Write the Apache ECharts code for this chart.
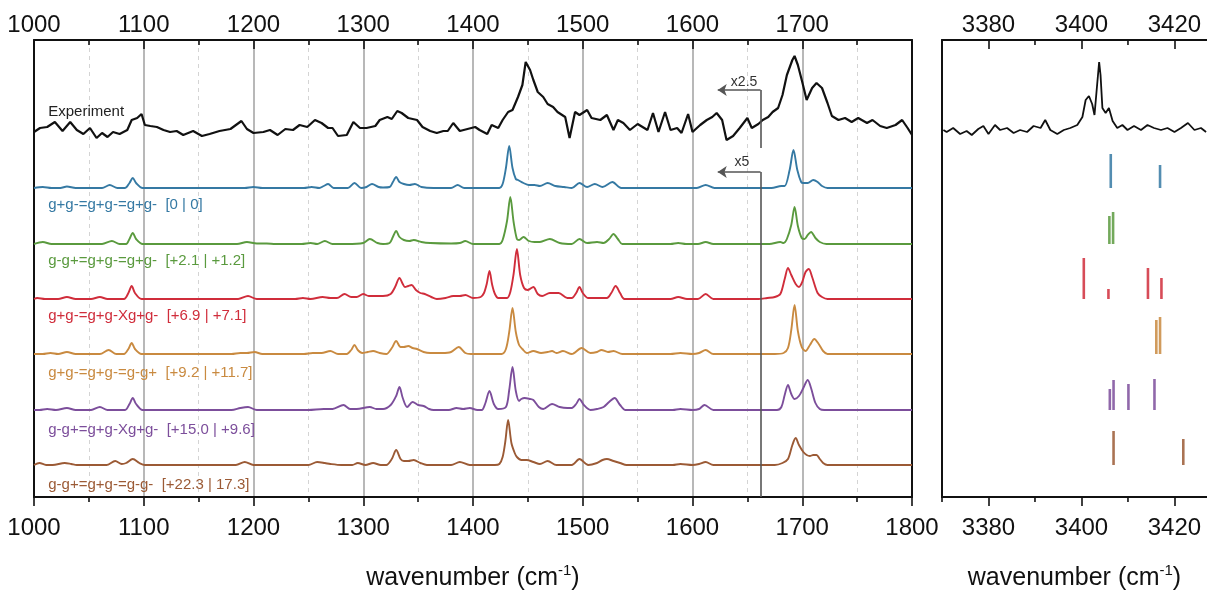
<!DOCTYPE html>
<html>
<head>
<meta charset="utf-8">
<script src="https://cdn.jsdelivr.net/npm/echarts@6/dist/echarts.min.js"></script>
<style>
  html, body { margin: 0; padding: 0; background: #fff; }
  #chart { width: 1207px; height: 590px; }
</style>
</head>
<body>
<div id="chart"></div>
<script>
// tick values
var bottomTicks = [1000, 1100, 1200, 1300, 1400, 1500, 1600, 1700, 1800];
var topTicks = [1000, 1100, 1200, 1300, 1400, 1500, 1600, 1700];
var rightTicks = [3380, 3400, 3420];
var rightMinorTicks = [3370, 3390, 3410];

// trace names and baselines (same order: experiment, then conformers)
var traceNames = [
  'Experiment',
  'g+g-=g+g-=g+g-  [0 | 0]',
  'g-g+=g+g-=g+g-  [+2.1 | +1.2]',
  'g+g-=g+g-Xg+g-  [+6.9 | +7.1]',
  'g+g-=g+g-=g-g+  [+9.2 | +11.7]',
  'g-g+=g+g-Xg+g-  [+15.0 | +9.6]',
  'g-g+=g+g-=g-g-  [+22.3 | 17.3]'
];
var baselines = [367, 309, 253, 198, 143, 87, 32];

// experiment, 1000-1800 cm-1
var expWn = [1000, 1005.5, 1012, 1019, 1026, 1033, 1039, 1045, 1051, 1057, 1062, 1067, 1072, 1078, 1085, 1089, 1094, 1098, 1101, 1106,
  1112, 1118, 1124, 1130, 1136, 1145, 1153, 1160, 1169, 1179, 1189, 1194, 1200, 1209, 1215, 1222, 1229, 1236, 1242, 1249,
  1256, 1262, 1268, 1272, 1277, 1285, 1291, 1297, 1303, 1311, 1315, 1322, 1326, 1331, 1335, 1341, 1349, 1354, 1361, 1367,
  1373, 1377, 1382, 1388, 1395, 1402, 1406, 1413, 1417, 1423, 1427, 1432, 1436, 1441, 1445, 1448, 1452, 1455, 1459, 1464,
  1468, 1473, 1477, 1484, 1488, 1493, 1497, 1504, 1508, 1516, 1522, 1528, 1532, 1537, 1543, 1550, 1559, 1564, 1569, 1575,
  1580, 1586, 1590, 1596, 1600, 1607, 1613, 1618, 1622, 1627, 1631, 1637, 1643, 1650, 1654, 1660, 1664, 1669, 1673, 1678,
  1682, 1686, 1691, 1693, 1696, 1700, 1704, 1709, 1713, 1718, 1723, 1727, 1733, 1739, 1745, 1751, 1759, 1764, 1771, 1777,
  1785, 1791, 1796, 1800];
var expVal = [-2, 2, 3, 8, -1, 8, 0, -4, 2, -8, -3, -7, -2, -4, 0, 10, 12, 16, 5, 4,
  3, 0, -2, -1, -5, -1, -6, -4, -1, 1, 9, 1, -3, -2, 0, -5, 1, 0, 5, 3,
  10, 7, 2, 2, -6, -5, 8, 2, 2, 4, 10, 13, 11, 19, 17, 12, 10, 3, -1, -3,
  -1, -1, 7, -1, 1, 3, 0, -4, 5, 2, 10, 18, 20, 33, 45, 68, 60, 50, 38, 33,
  26, 23, 18, 13, -8, 18, 15, 20, 12, 10, 15, 0, 10, 7, 0, 6, 0, 17, -2, 18,
  0, 2, -3, 16, -2, 5, 10, 13, 17, 10, -10, -6, 2, 12, 2, 6, 10, 13, 18, 22,
  35, 55, 70, 74, 65, 48, 30, 42, 47, 42, 27, 14, 10, 12, 8, 12, 7, 10, 4, 2,
  5, 10, 2, -5];

// experiment, 3370-3427 cm-1
var expRWn = [3370.3, 3371.0, 3372.4, 3373.9, 3375.3, 3376.4, 3377.8, 3378.9, 3380.0, 3381.4, 3382.5, 3384.0, 3385.4, 3386.8,
  3388.3, 3389.7, 3391.2, 3392.2, 3393.3, 3394.8, 3396.2, 3397.6, 3399.1, 3400.2, 3400.9, 3401.6, 3402.3, 3402.8, 3403.4,
  3403.8, 3404.1, 3404.5, 3405.2, 3405.9, 3406.7, 3407.7, 3408.8, 3409.9, 3411.3, 3412.8, 3414.2, 3415.6, 3417.1, 3418.5,
  3420.0, 3421.4, 3422.9, 3424.3, 3425.7, 3426.8];
var expRVal = [0, -2, 2, -4, -1, -5, 1, 4, -4, 5, 0, 2, -3, 0,
  -2, 4, 2, 10, 0, -4, 0, 2, 5, 13, 30, 34, 26, 15, 47,
  68, 55, 22, 17, 22, 9, 2, 5, 0, 4, 0, 5, 2, 0, 2,
  -2, 2, 7, 0, 2, -2];

// computed spectra [wavenumber, intensity]
var spec1 = [[1000,0],[1008,1],[1016,0],[1024,0],[1030,1.5],[1038,0],[1062,0],[1069,3],[1076,0],[1083,0],[1087,5],[1090,10],[1093,5],[1099,0],
  [1192,0],[1200,1],[1208,0],[1246,0],[1253,1],[1260,0],[1264,2],[1268,4],[1273,0],[1286,0],[1292,5],[1298,0],[1303,1],[1308,4],[1314,1],
  [1318,0.5],[1324,1],[1327,6],[1330,11],[1333,6],[1337,4],[1342,3],[1347,4],[1353,1],[1364,0],[1380,0],[1386,3],[1392,0],[1424,0],[1427,4],
  [1430,20],[1433,42],[1436,20],[1439,9],[1441,8],[1446,5],[1451,3],[1456,3],[1461,2],[1468,5],[1475,2],[1483,1],[1490,0],[1497,5],
  [1504,1],[1511,4],[1518,1],[1527,6],[1535,0],[1604,0],[1612,3],[1620,0],[1672,0],[1681,2],[1684,2],[1688.5,18],[1692,38],[1695.5,18],
  [1699,6],[1701,5],[1705,5],[1710,8],[1714,6],[1718,2],[1723,0],[1800,0]];
var spec2 = [[1000,0],[1008,2],[1016,0],[1062,0],[1071,3],[1078,0],[1084,0],[1087,5],[1090,11],[1093,5],[1099,0],
  [1185,0],[1194,2],[1203,0.5],[1212,0.5],[1220,0],[1244,0],[1252,1],[1258,0],[1265,3],[1272,0],[1285,0],[1300,1],[1306,5],[1313,1],
  [1318,0],[1324,1],[1327,7],[1330,13],[1333,7],[1337,4],[1342,3],[1346,4],[1353,2],[1361,1],[1380,0.5],[1388,1],[1393,3],[1400,0],
  [1424,0],[1427,4],[1431,23],[1434,47],[1437,22],[1440,5],[1442,4],[1446,7],[1451,3],[1456,2],[1461,2],[1470,5],[1479,1],[1490,0],
  [1497,5],[1504,1],[1513,2],[1519,1],[1524,5],[1528,10],[1532,5],[1536,0],[1580,0],[1587,1],[1594,0],[1605,0],[1612,2],[1619,0],
  [1670,0],[1680,2],[1683,1],[1686,5],[1690,19],[1693,37],[1696,18],[1699.5,6],[1702,5],[1705,9],[1708,12],[1712,6],[1716,2],[1722,0],[1800,0]];
var spec3 = [[1000,0],[1003,1],[1010,0],[1022,0],[1030,2],[1038,0],[1052,0],[1060,2],[1067,0],[1082,0],[1086,6],[1089,13],[1092,6],[1098,0],
  [1186,0],[1195,3],[1203,0],[1238,0],[1245,1],[1252,0],[1263,2],[1270,1],[1276,1],[1283,5],[1289,2],[1294,2],[1300,5],[1305,3],[1309,3],
  [1318,3],[1325,5],[1329,12],[1333,21],[1336,15],[1338,12],[1341,13],[1344,14],[1348,9],[1352,6],[1356,5],[1362,2],[1367,0],[1375,1],
  [1382,3],[1388,3],[1393,4],[1400,1],[1407,2],[1410,6],[1412.5,15],[1415,28],[1417.5,14],[1420,5],[1423,1],[1431,1],[1434,7],[1437,25],
  [1440,50],[1443,24],[1446.5,11],[1450,9],[1455,12],[1459,5],[1463,3],[1470,6],[1478,6],[1486,1],[1490,1],[1494,6],[1497,12],[1500,6],
  [1505,1],[1522,1],[1526,6],[1530,13],[1534,6],[1538,0],[1580,0],[1587,2],[1595,0],[1605,0],[1612,5],[1619,0],[1660,0],[1668,1],[1675,2],
  [1680,5],[1684,20],[1687,31],[1690,24],[1694,15],[1697,12],[1700,17],[1703,27],[1706,30],[1709,22],[1714,6],[1718,2],[1723,0],[1800,0]];
var spec4 = [[1000,0],[1008,0],[1015,1],[1022,0],[1030,2],[1038,0],[1060,0],[1068,4],[1075,0],[1082,0],[1086,5],[1089,11],[1092,5],[1098,0],
  [1180,0],[1188,1],[1194,1],[1201,2],[1208,0],[1246,0],[1254,1],[1262,1],[1270,3],[1277,0],[1285,0],[1289,4],[1292,9],[1295,4],[1299,1],
  [1304,2],[1309,3],[1315,1],[1321,0],[1326,6],[1330,13],[1334,7],[1337,7],[1341,8],[1345,6],[1349,5],[1355,2],[1361,1],[1372,1],[1380,2],
  [1387,7],[1393,1],[1398,0],[1426,0],[1430,5],[1433,22],[1436,46],[1439,22],[1442,9],[1445,5],[1449,1],[1455,3],[1462,1],[1468,2],
  [1472,3],[1476,1],[1482,3],[1490,0],[1499,6],[1507,1],[1513,2],[1517,4],[1523,2],[1528,3],[1536,0],[1580,0],[1589,1],[1600,0],[1606,1],
  [1612,4],[1619,0],[1675,0],[1683,1],[1687,6],[1690,24],[1693,49],[1696,23],[1699.5,7],[1703,3],[1707,9],[1711,15],[1715,10],[1719,3],
  [1723,0],[1800,0]];
var spec5 = [[1000,0],[1005,0],[1012,1],[1020,0],[1030,2],[1038,0],[1052,0],[1060,3],[1067,0],[1083,0],[1087,6],[1090,12],[1093,6],[1099,0],
  [1180,0],[1188,2],[1195,3],[1203,0],[1250,0],[1264,1],[1272,1],[1282,5],[1288,1],[1294,1],[1306,3],[1312,1],[1318,1],[1325,5],[1330,14],
  [1333,23],[1336,12],[1340,3],[1345,8],[1350,5],[1355,4],[1360,1],[1364,0],[1378,0],[1385,2],[1391,1],[1397,2],[1404,0],[1408,0],[1411,6],
  [1415,19],[1419,6],[1423,1],[1430,3],[1433,20],[1436,43],[1439,19],[1442,9],[1444,11],[1447,12],[1452,11],[1455,10],[1460,3],[1464,1],
  [1472,6],[1479,3],[1486,2],[1490,2],[1494,6],[1497,11],[1501,5],[1507,0],[1513,1],[1519,3],[1524,8],[1529,12],[1534,5],[1539,0],
  [1582,0],[1589,1],[1600,0],[1606,1],[1611,5],[1619,0],[1677,0],[1681,3],[1684,15],[1687,25],[1690,16],[1693,11],[1697,14],[1701,22],
  [1705,30],[1708,22],[1712,7],[1716,1],[1720,0],[1800,0]];
var spec6 = [[1000,0],[1005,2],[1011,0],[1017,0],[1028,2],[1034,1],[1039,0],[1066,0],[1074,4],[1080,1],[1084,2],[1090,6],[1096,2],[1101,0],
  [1184,0],[1192,3],[1200,0],[1250,0],[1258,3],[1265,2],[1270,1],[1280,0],[1290,0],[1295,2],[1302,0],[1309,2],[1316,0],[1321,0],[1326,6],
  [1330,15],[1334,6],[1337,4],[1341,4],[1346,5],[1352,2],[1358,0],[1380,0],[1388,3],[1397,0],[1420,0],[1424,1],[1427,8],[1429.5,24],
  [1432,45],[1435,22],[1438,12],[1440,8],[1444,5],[1449,5],[1455,3],[1461,1],[1468,4],[1476,0],[1490,0],[1497,6],[1505,0],[1513,2],
  [1518,5],[1522,6],[1528,4],[1534,2],[1540,0],[1582,0],[1589,1],[1600,0],[1606,1],[1612,3],[1619,0],[1675,0],[1682,2],[1687,6],
  [1691,20],[1694,27],[1697,20],[1701,13],[1704,10],[1707,9],[1710,10],[1713,10],[1716,6],[1719,2],[1723,0],[1800,0]];

// computed NH stretch sticks [wavenumber, intensity]
var sticks1 = [[3406.3, 34], [3416.9, 23]];
var sticks2 = [[3406.0, 28], [3406.8, 32]];
var sticks3 = [[3400.5, 41], [3405.8, 10], [3414.3, 31], [3417.2, 21]];
var sticks4 = [[3416.1, 34], [3416.9, 37]];
var sticks5 = [[3406.1, 21], [3406.9, 30], [3410.1, 26], [3415.7, 31]];
var sticks6 = [[3406.9, 34], [3421.9, 26]];

var specs = [spec1, spec2, spec3, spec4, spec5, spec6];
var sticks = [sticks1, sticks2, sticks3, sticks4, sticks5, sticks6];
var colors = ['#111111', '#3579a3', '#5a9a3e', '#d02d3b', '#c98a40', '#7c4e9b', '#9b5a35'];

var FONT = 'Liberation Sans, Arial, Helvetica, sans-serif';
var myChart = echarts.init(document.getElementById('chart'));

function withBase(pairs, base) {
  return pairs.map(function (p) { return [p[0], base + p[1]]; });
}

function plainNumber(v) {
  return String(v);
}

function renderStick(params, api) {
  var p0 = api.coord([api.value(0), api.value(1)]);
  var p1 = api.coord([api.value(0), api.value(2)]);
  return {
    type: 'line',
    shape: { x1: p0[0], y1: p0[1], x2: p1[0], y2: p1[1] },
    style: { stroke: api.visual('color'), lineWidth: 2.6, opacity: 0.85 }
  };
}

// short ticks for the right panel (outward at bottom, inward at top)
function renderMinorTick(params, api) {
  var b = api.coord([api.value(0), 0]);
  var t = api.coord([api.value(0), 457]);
  var st = { stroke: '#111', lineWidth: 1.6 };
  var kids = [{ type: 'line', shape: { x1: b[0], y1: b[1], x2: b[0], y2: b[1] + 5 }, style: st }];
  if (api.value(0) > 3370) {
    kids.push({ type: 'line', shape: { x1: t[0], y1: t[1], x2: t[0], y2: t[1] + 5 }, style: st });
  }
  return { type: 'group', children: kids };
}

var axisName = {
  name: '{a|wavenumber (cm}{s|-1}{a|)}',
  nameLocation: 'middle',
  nameGap: 66,
  nameTextStyle: {
    rich: {
      a: { fontSize: 25, fontFamily: FONT, color: '#111', lineHeight: 30 },
      s: { fontSize: 15, fontFamily: FONT, color: '#111', lineHeight: 18, verticalAlign: 'top' }
    }
  }
};

var blackLine = { show: true, onZero: false, lineStyle: { color: '#111', width: 2 } };
var labelStyle = { fontSize: 24, fontFamily: FONT, color: '#111', formatter: plainNumber };

var series = [];
// experiment
series.push({
  type: 'line', xAxisIndex: 0, yAxisIndex: 0, symbol: 'none', z: 5,
  data: expWn.map(function (w, i) { return [w, baselines[0] + expVal[i]]; }),
  lineStyle: { color: colors[0], width: 2.2 },
  markLine: {
    silent: true, symbol: 'none', animation: false, z: 10,
    label: { show: false },
    lineStyle: { color: '#555', width: 1.6, type: 'solid' },
    data: [
      [{ coord: [1662, 407] }, { coord: [1662, 349] }],
      [{ coord: [1623, 407], symbol: 'arrow', symbolSize: 9 }, { coord: [1662, 407] }],
      [{ coord: [1662, 325] }, { coord: [1662, 0] }],
      [{ coord: [1623, 325], symbol: 'arrow', symbolSize: 9 }, { coord: [1662, 325] }]
    ]
  }
});
series.push({
  type: 'line', xAxisIndex: 2, yAxisIndex: 2, symbol: 'none',
  data: expRWn.map(function (w, i) { return [w, baselines[0] + expRVal[i]]; }),
  lineStyle: { color: colors[0], width: 1.8 }
});
specs.forEach(function (sp, i) {
  series.push({
    type: 'line', xAxisIndex: 0, yAxisIndex: 0, symbol: 'none', smooth: 0.3,
    data: withBase(sp, baselines[i + 1]),
    lineStyle: { color: colors[i + 1], width: 1.9 }
  });
  series.push({
    type: 'custom', xAxisIndex: 2, yAxisIndex: 2, renderItem: renderStick,
    itemStyle: { color: colors[i + 1] }, encode: { x: 0, y: [1, 2] },
    data: sticks[i].map(function (s) { return [s[0], baselines[i + 1], baselines[i + 1] + s[1]]; })
  });
});
series.push({
  type: 'custom', xAxisIndex: 2, yAxisIndex: 2, renderItem: renderMinorTick, silent: true, clip: false,
  data: rightMinorTicks.map(function (v) { return [v, 0]; })
});

var option = {
  animation: false,
  backgroundColor: '#fff',
  grid: [
    { left: 34, top: 40, width: 878, height: 457, outerBoundsMode: 'none' },
    { left: 942, top: 40, width: 265, height: 457, outerBoundsMode: 'none' }
  ],
  xAxis: [
    Object.assign({
      type: 'value', gridIndex: 0, position: 'bottom', min: 1000, max: 1800, interval: 100,
      axisLine: blackLine,
      axisTick: { show: true, inside: false, length: 9, lineStyle: { color: '#111', width: 1.6 } },
      minorTick: { show: true, splitNumber: 2, length: 5, lineStyle: { color: '#111', width: 1.6 } },
      axisLabel: Object.assign({ margin: 19, customValues: bottomTicks }, labelStyle),
      splitLine: { show: true, lineStyle: { color: '#a0a0a0', width: 1.5 } },
      minorSplitLine: { show: true, lineStyle: { color: '#d4d4d4', width: 1, type: [4, 4] } }
    }, axisName),
    {
      type: 'value', gridIndex: 0, position: 'top', min: 1000, max: 1800, interval: 100,
      axisLine: blackLine,
      axisTick: { show: true, inside: true, length: 9, lineStyle: { color: '#111', width: 1.6 } },
      minorTick: { show: true, splitNumber: 2, length: 5, lineStyle: { color: '#111', width: 1.6 } },
      axisLabel: Object.assign({ margin: 3, customValues: topTicks }, labelStyle),
      splitLine: { show: false }
    },
    Object.assign({
      type: 'value', gridIndex: 1, position: 'bottom', min: 3370, max: 3427,
      axisLine: blackLine,
      axisTick: { show: true, inside: false, length: 9, customValues: rightTicks, lineStyle: { color: '#111', width: 1.6 } },
      axisLabel: Object.assign({ margin: 19, customValues: rightTicks }, labelStyle),
      splitLine: { show: false }
    }, axisName),
    {
      type: 'value', gridIndex: 1, position: 'top', min: 3370, max: 3427,
      axisLine: blackLine,
      axisTick: { show: true, inside: true, length: 9, customValues: rightTicks, lineStyle: { color: '#111', width: 1.6 } },
      axisLabel: Object.assign({ margin: 3, customValues: rightTicks }, labelStyle),
      splitLine: { show: false }
    }
  ],
  yAxis: [
    { type: 'value', gridIndex: 0, position: 'left', min: 0, max: 457, axisLine: blackLine,
      axisTick: { show: false }, axisLabel: { show: false }, splitLine: { show: false } },
    { type: 'value', gridIndex: 0, position: 'right', min: 0, max: 457, axisLine: blackLine,
      axisTick: { show: false }, axisLabel: { show: false }, splitLine: { show: false } },
    { type: 'value', gridIndex: 1, position: 'left', min: 0, max: 457, axisLine: blackLine,
      axisTick: { show: false }, axisLabel: { show: false }, splitLine: { show: false } }
  ],
  series: series
};

myChart.setOption(option);

// text labels placed through the axes
var labelOffsets = [18, -17, -17, -17, -19, -20, -20];
var graphics = traceNames.map(function (name, i) {
  var p = myChart.convertToPixel({ xAxisIndex: 0, yAxisIndex: 0 }, [1013, baselines[i] + labelOffsets[i]]);
  return {
    type: 'text', x: p[0], y: p[1], z: 20,
    style: { text: name, fill: i === 0 ? '#222' : colors[i], fontSize: 15, fontFamily: FONT,
      verticalAlign: 'middle', align: 'left' }
  };
});
[['x2.5', 1647, 415], ['x5', 1645, 335]].forEach(function (t) {
  var p = myChart.convertToPixel({ xAxisIndex: 0, yAxisIndex: 0 }, [t[1], t[2]]);
  graphics.push({
    type: 'text', x: p[0], y: p[1], z: 20,
    style: { text: t[0], fill: '#333', fontSize: 14, fontFamily: FONT, verticalAlign: 'middle', align: 'center' }
  });
});
myChart.setOption({ graphic: graphics });
</script>
</body>
</html>
